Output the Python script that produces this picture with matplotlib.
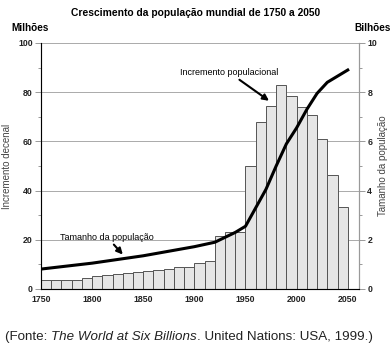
import numpy as np
import matplotlib.pyplot as plt
from matplotlib.ticker import MultipleLocator

plt.rcParams['font.family'] = ['Liberation Sans', 'DejaVu Sans']

# dados
decadas = list(range(1750, 2050, 10))
incremento = [3.5, 3.6, 3.6, 3.6, 4.4, 5.4, 5.8, 6.1, 6.3, 7.0,
              7.4, 7.7, 8.3, 8.8, 8.8, 10.5, 11.4, 21.4, 23.0, 23.0,
              50.1, 68.0, 74.2, 82.9, 78.3, 74.0, 70.7, 61.0, 46.5, 33.3]
anos_pop = [1750, 1800, 1850, 1900, 1920, 1930, 1940, 1950, 1960, 1970,
            1980, 1990, 2000, 2010, 2020, 2030, 2040, 2050]
populacao = [0.81, 1.05, 1.35, 1.72, 1.9, 2.1, 2.3, 2.55, 3.3, 4.05,
             5.0, 5.9, 6.55, 7.3, 7.95, 8.4, 8.65, 8.9]
xticks = [1750, 1800, 1850, 1900, 1950, 2000, 2050]

fig = plt.figure(figsize=(3.92, 3.52), dpi=100)
ax = fig.add_axes([0.1046, 0.179, 0.8112, 0.699])

ax.bar(decadas, incremento, width=10, align='edge', color='#e6e6e6',
       edgecolor='#555555', linewidth=0.7, zorder=2)
ax.set_xlim(1750, 2061)
ax.set_ylim(0, 100)
ax.yaxis.set_major_locator(MultipleLocator(20))
ax.yaxis.set_minor_locator(MultipleLocator(10))
ax.set_xticks(xticks)
ax.grid(axis='y', color='#aaaaaa', linewidth=0.7, zorder=0)
for s in ['left', 'right', 'top', 'bottom']:
    ax.spines[s].set_color('#999999')
ax.spines['top'].set_visible(False)
ax.tick_params(axis='both', colors='#999999', labelcolor='#222222',
               labelsize=6.3, length=4, width=0.7, pad=2)
ax.tick_params(axis='x', length=0, pad=4)
ax.tick_params(which='minor', length=2.5, colors='#999999', width=0.7)
for lb in ax.get_xticklabels() + ax.get_yticklabels():
    lb.set_fontweight('bold')
ax.set_ylabel('Incremento decenal', fontsize=7, color='#444444')
ax.yaxis.set_label_coords(-0.091, 0.5)

ax2 = ax.twinx()
ax2.plot(anos_pop, populacao, color='black', linewidth=2.2, zorder=3)
ax2.set_ylim(0, 10)
ax2.yaxis.set_major_locator(MultipleLocator(2))
ax2.yaxis.set_minor_locator(MultipleLocator(1))
ax2.spines['top'].set_visible(False)
ax2.spines['right'].set_color('#999999')
ax2.tick_params(axis='y', colors='#999999', labelcolor='#222222',
                labelsize=6.3, length=4, width=0.7, pad=2)
ax2.tick_params(which='minor', length=2.5, colors='#999999', width=0.7)
for lb in ax2.get_yticklabels():
    lb.set_fontweight('bold')
ax2.set_ylabel('Tamanho da população', fontsize=7, color='#444444',
               rotation=90, va='center')
ax2.yaxis.set_label_coords(1.074, 0.5)

ax.annotate('Incremento populacional', xy=(1973, 76.5), xytext=(1886, 88),
            fontsize=6.5, va='center',
            arrowprops=dict(arrowstyle='-|>', color='black', lw=1.5,
                            shrinkA=0, shrinkB=0, mutation_scale=9),
            zorder=5)
ax.annotate('Tamanho da população', xy=(1830, 14), xytext=(1769, 21),
            fontsize=6.5, va='center',
            arrowprops=dict(arrowstyle='-|>', color='black', lw=1.5,
                            shrinkA=0, shrinkB=0, mutation_scale=9),
            zorder=5)

fig.text(0.5, 0.964, 'Crescimento da população mundial de 1750 a 2050',
         ha='center', va='center', fontsize=7.4, fontweight='bold')
fig.text(0.028, 0.92, 'Milhões', ha='left', va='center', fontsize=7.2,
         fontweight='bold')
fig.text(0.905, 0.92, 'Bilhões', ha='left', va='center', fontsize=7.2,
         fontweight='bold')

# fonte com parte em italico
x0 = 0.013
for txt, st in [('(Fonte: ', 'normal'), ('The World at Six Billions', 'italic'),
                ('. United Nations: USA, 1999.)', 'normal')]:
    t = fig.text(x0, 0.043, txt, ha='left', va='center', fontsize=9.6,
                 style=st, color='#222222')
    fig.canvas.draw()
    x0 += t.get_window_extent().width / fig.bbox.width

fig.savefig('out.png', dpi=100)
